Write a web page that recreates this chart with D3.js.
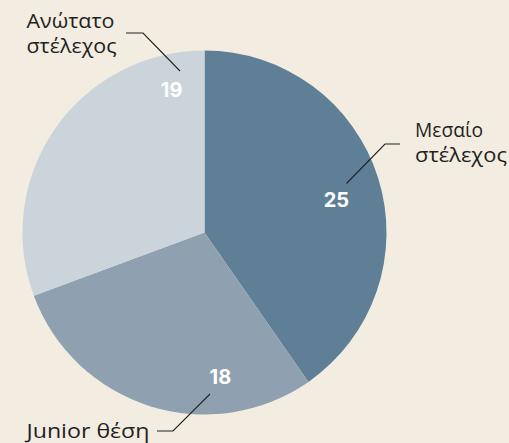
<!DOCTYPE html>
<html><head><meta charset="utf-8">
<script src="https://cdn.jsdelivr.net/npm/d3@7"></script>
<style>
html,body{margin:0;padding:0;background:#f2ece1;}
svg{display:block;}
</style></head>
<body>
<script>
// Data
const categories = ["Μεσαίο στέλεχος", "Junior θέση", "Ανώτατο στέλεχος"];
const labelLines = [["Μεσαίο", "στέλεχος"], ["Junior θέση"], ["Ανώτατο", "στέλεχος"]];
const values = [25, 18, 19];
const colors = ["#5f7f96", "#8fa1b1", "#cbd3db"];

// Layout (not data)
const W = 509, H = 443;
const cx = 204.5, cy = 232.5, R = 182;
// number label positions: [angle deg clockwise from top, radius]
const numPos = [[76, 136], [173.7, 145], [-13, 146]];
// leader polylines relative to pie center
const leaders = [
  [[142, -49], [180.5, -88.5], [195.5, -88.5]],
  [[5.5, 161.5], [-31.5, 198.5], [-47.5, 198.5]],
  [[-24.5, -161.5], [-61.5, -199.5], [-78.5, -199.5]]
];
// text label anchors (absolute) and target line widths
const textPos = [
  {x: 415, y: 137, widths: [68, 92]},
  {x: 26.5, y: 438, widths: [123]},
  {x: 26.5, y: 28.3, widths: [88, 90]}
];

const svg = d3.select("body").append("svg").attr("width", W).attr("height", H);
svg.append("rect").attr("width", W).attr("height", H).attr("fill", "#f2ece1");

const pie = d3.pie().sort(null).value(d => d);
const arcs = pie(values);
const arc = d3.arc().innerRadius(0).outerRadius(R);
const g = svg.append("g").attr("transform", `translate(${cx},${cy})`);

g.selectAll("path.slice").data(arcs).join("path")
  .attr("class", "slice")
  .attr("d", arc)
  .attr("fill", (d, i) => colors[i]);

g.selectAll("text.num").data(arcs).join("text")
  .attr("class", "num")
  .attr("x", (d, i) => numPos[i][1] * Math.sin(numPos[i][0] * Math.PI / 180))
  .attr("y", (d, i) => -numPos[i][1] * Math.cos(numPos[i][0] * Math.PI / 180))
  .attr("text-anchor", "middle")
  .attr("dominant-baseline", "central")
  .attr("fill", "#ffffff")
  .attr("font-family", "Inter, 'Noto Sans', sans-serif")
  .attr("font-weight", 700)
  .attr("font-size", 20)
  .text(d => d.data);

const line = d3.line();
g.selectAll("path.leader").data(leaders).join("path")
  .attr("class", "leader")
  .attr("d", d => line(d))
  .attr("fill", "none")
  .attr("stroke", "#222")
  .attr("stroke-width", 1.1);

labelLines.forEach((lines, i) => {
  const t = svg.append("text")
    .attr("x", textPos[i].x)
    .attr("y", textPos[i].y)
    .attr("fill", "#1f1f1f")
    .attr("font-family", "'Open Sans', 'Noto Sans', sans-serif")
    .attr("font-size", 20);
  lines.forEach((l, j) => {
    t.append("tspan")
      .attr("x", textPos[i].x)
      .attr("y", textPos[i].y + j * 24.5)
      .attr("textLength", textPos[i].widths[j])
      .attr("lengthAdjust", "spacingAndGlyphs")
      .text(l);
  });
});
</script>
</body></html>
